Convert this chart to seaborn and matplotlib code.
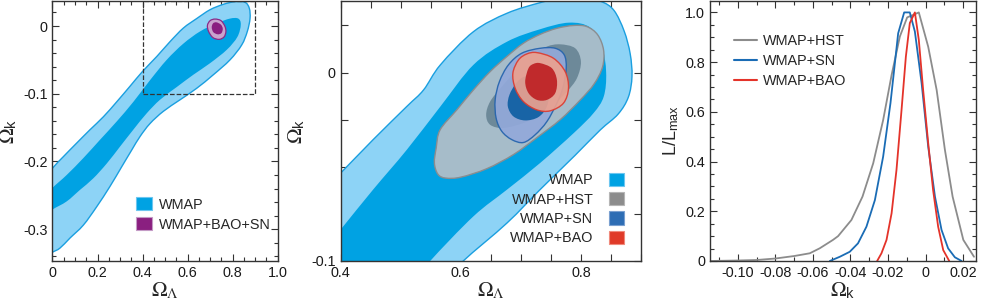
import numpy as np
import pandas as pd
import seaborn as sns
import matplotlib.pyplot as plt
from matplotlib.path import Path
from matplotlib.patches import PathPatch, Patch, Rectangle
from matplotlib.lines import Line2D
from matplotlib.ticker import MultipleLocator, FuncFormatter

# ---- contour outlines (Omega_Lambda, Omega_k) ----
# left panel, WMAP only
wmap95_left_x = [-0.03, 0.0, 0.048, 0.107, 0.167, 0.226, 0.285, 0.344, 0.400, 0.463, 0.522, 0.581, 0.640, 0.699,
                 0.758, 0.810, 0.855, 0.874, 0.877, 0.865, 0.840, 0.788, 0.714, 0.640, 0.566, 0.492, 0.433, 0.389,
                 0.352, 0.307, 0.255, 0.196, 0.137, 0.078, 0.033, 0.0, -0.03]
wmap95_left_y = [-0.225, -0.210, -0.193, -0.173, -0.153, -0.134, -0.112, -0.089, -0.067, -0.045, -0.023, -0.003,
                 0.011, 0.024, 0.032, 0.036, 0.035, 0.026, 0.011, -0.008, -0.028, -0.050, -0.072, -0.092, -0.109,
                 -0.126, -0.144, -0.163, -0.183, -0.208, -0.237, -0.267, -0.294, -0.313, -0.328, -0.334, -0.340]
wmap68_left_x = [-0.03, 0.0, 0.063, 0.137, 0.211, 0.285, 0.359, 0.433, 0.507, 0.581, 0.655, 0.729, 0.788, 0.825,
                 0.836, 0.821, 0.774, 0.699, 0.625, 0.552, 0.477, 0.418, 0.359, 0.300, 0.241, 0.181, 0.122, 0.063,
                 0.0, -0.03]
wmap68_left_y = [-0.252, -0.239, -0.220, -0.195, -0.168, -0.141, -0.112, -0.080, -0.050, -0.026, -0.008, 0.004,
                 0.011, 0.011, 0.002, -0.016, -0.035, -0.055, -0.072, -0.090, -0.109, -0.129, -0.153, -0.178,
                 -0.203, -0.225, -0.242, -0.259, -0.271, -0.280]
# WMAP+BAO+SN
comb95_x = [0.722, 0.748, 0.765, 0.770, 0.762, 0.740, 0.712, 0.693, 0.688, 0.700]
comb95_y = [0.0103, 0.008, 0.0, -0.008, -0.016, -0.0197, -0.017, -0.008, 0.001, 0.008]
comb68_x = [0.728, 0.748, 0.756, 0.750, 0.733, 0.714, 0.707, 0.713]
comb68_y = [0.0055, 0.002, -0.004, -0.0105, -0.0122, -0.009, -0.002, 0.004]

# middle panel (zoom)
wmap95_mid_x = [0.36, 0.40, 0.454, 0.510, 0.538, 0.566, 0.621, 0.677, 0.732, 0.765, 0.800, 0.833, 0.855, 0.872,
                0.882, 0.885, 0.879, 0.862, 0.832, 0.790, 0.732, 0.677, 0.604, 0.57, 0.36]
wmap95_mid_y = [-0.066, -0.0533, -0.0356, -0.018, -0.0092, 0.0041, 0.0217, 0.0315, 0.0371, 0.0392, 0.0398,
                0.0378, 0.033, 0.022, 0.010, -0.002, -0.013, -0.022, -0.0305, -0.044, -0.0621, -0.0798, -0.100,
                -0.112, -0.125]
wmap68_mid_x = [0.36, 0.40, 0.454, 0.510, 0.566, 0.621, 0.677, 0.732, 0.780, 0.815, 0.835, 0.842, 0.838, 0.821,
                0.788, 0.732, 0.677, 0.621, 0.549, 0.52, 0.36]
wmap68_mid_y = [-0.099, -0.0833, -0.0621, -0.041, -0.018, 0.0041, 0.0164, 0.023, 0.0265, 0.024, 0.014, 0.0,
                -0.0127, -0.0215, -0.0321, -0.048, -0.0621, -0.0763, -0.100, -0.112, -0.125]
hst95_x = [0.760, 0.7877, 0.810, 0.828, 0.8377, 0.836, 0.822, 0.799, 0.7655, 0.7267, 0.6877, 0.6433, 0.600,
           0.575, 0.562, 0.556, 0.559, 0.5655, 0.5933, 0.621, 0.6488, 0.6767, 0.7043, 0.7322]
hst95_y = [0.0235, 0.0250, 0.0244, 0.020, 0.012, 0.003, -0.006, -0.0145, -0.025, -0.0345, -0.0435, -0.051,
           -0.0555, -0.0560, -0.054, -0.048, -0.040, -0.0304, -0.0198, -0.0092, 0.0005, 0.0085, 0.0156, 0.0203]
hst68_x = [0.7655, 0.7905, 0.800, 0.7933, 0.7767, 0.755, 0.7322, 0.7043, 0.671, 0.6488, 0.6422, 0.6488, 0.6683,
           0.6933, 0.721, 0.7433]
hst68_y = [0.015, 0.0129, 0.0058, -0.003, -0.0101, -0.017, -0.0224, -0.0268, -0.0294, -0.0277, -0.0224, -0.0154,
           -0.0074, 0.0014, 0.0094, 0.0138]
sn95_x = [0.7322, 0.7572, 0.7722, 0.7755, 0.770, 0.760, 0.7433, 0.7238, 0.7043, 0.685, 0.6683, 0.6588, 0.6572,
          0.6643, 0.6793, 0.7017]
sn95_y = [0.0129, 0.0129, 0.0094, 0.0023, -0.008, -0.0162, -0.026, -0.033, -0.0371, -0.0356, -0.0312, -0.0242,
          -0.0145, -0.0048, 0.0041, 0.0103]
sn68_x = [0.7072, 0.7322, 0.746, 0.7433, 0.7293, 0.7072, 0.6877, 0.6783, 0.681, 0.6922]
sn68_y = [-0.0021, -0.0039, -0.0101, -0.018, -0.0236, -0.0254, -0.0233, -0.018, -0.0118, -0.0056]
bao95_x = [0.7267, 0.7543, 0.7738, 0.7793, 0.771, 0.7488, 0.7267, 0.7043, 0.6905, 0.6867, 0.696, 0.710]
bao95_y = [0.0106, 0.0076, 0.0005, -0.0083, -0.0162, -0.0203, -0.0198, -0.0154, -0.0083, -0.0003, 0.0067, 0.0099]
bao68_x = [0.7322, 0.7517, 0.760, 0.7572, 0.7433, 0.7267, 0.7127, 0.7072, 0.7127, 0.721]
bao68_y = [0.005, 0.0023, -0.0039, -0.0109, -0.0145, -0.0145, -0.0109, -0.0048, 0.0023, 0.0046]

# right panel: likelihood of Omega_k
ok_hst = [-0.115, -0.100, -0.090, -0.080, -0.070, -0.0617, -0.0564, -0.0493, -0.0466, -0.0395, -0.0336, -0.0279,
          -0.0226, -0.0181, -0.0137, -0.0098, -0.0066, -0.0036, 0.0014, 0.0059, 0.0103, 0.0144, 0.0201, 0.0258]
L_hst = [0.0, 0.002, 0.004, 0.010, 0.020, 0.031, 0.051, 0.085, 0.100, 0.165, 0.259, 0.393, 0.567, 0.748, 0.903,
         0.980, 0.990, 1.0, 0.862, 0.688, 0.447, 0.259, 0.085, 0.017]
ok_sn = [-0.051, -0.0457, -0.0404, -0.036, -0.0315, -0.027, -0.0226, -0.0187, -0.0146, -0.0114, -0.0084, -0.0057,
         -0.0021, 0.0014, 0.005, 0.0085, 0.012, 0.0156, 0.0192]
L_sn = [0.0, 0.017, 0.037, 0.071, 0.138, 0.245, 0.42, 0.635, 0.916, 1.0, 1.0, 0.923, 0.715, 0.46, 0.259, 0.125,
        0.051, 0.015, 0.0]
ok_bao = [-0.0258, -0.0235, -0.0208, -0.0181, -0.0155, -0.0128, -0.0105, -0.0084, -0.0057, -0.0036, -0.0013,
          0.0014, 0.004, 0.0067, 0.0094, 0.0126]
L_bao = [0.0, 0.031, 0.085, 0.192, 0.366, 0.608, 0.822, 0.957, 1.0, 0.889, 0.688, 0.474, 0.286, 0.138, 0.044, 0.0]

sns.set_style("ticks")
plt.rcParams['font.family'] = ['Liberation Sans', 'DejaVu Sans']
plt.rcParams['mathtext.fontset'] = 'stix'
plt.rcParams['axes.unicode_minus'] = False

light_blue, wmap_blue, wmap_edge = '#8dd3f6', '#00a2e3', '#1a9fe0'
FS = 10.4


def contour(ax, xs, ys, **kw):
    # smooth closed curve through the read-off points
    p = np.column_stack([xs, ys])
    n = len(p)
    verts, codes = [p[0]], [Path.MOVETO]
    for i in range(n):
        p0, p1, p2, p3 = p[i - 1], p[i], p[(i + 1) % n], p[(i + 2) % n]
        verts += [p1 + (p2 - p0) / 6, p2 - (p3 - p1) / 6, p2]
        codes += [Path.CURVE4] * 3
    ax.add_patch(PathPatch(Path(verts, codes), **kw))


def style(ax, minor_len=3):
    ax.tick_params(which='both', direction='in', top=True, right=True, width=0.8,
                   color='#333333', labelcolor='#1a1a1a', labelsize=FS)
    ax.tick_params(which='major', length=5)
    ax.tick_params(which='minor', length=minor_len)
    for s in ax.spines.values():
        s.set_linewidth(1.0)
        s.set_color('#333333')


fmt = FuncFormatter(lambda v, p: '0' if abs(v) < 1e-9 else f'{v:.1f}')
fmt2 = FuncFormatter(lambda v, p: '0' if abs(v) < 1e-9 else f'{v:.2f}')

fig = plt.figure(figsize=(9.81, 3.08), dpi=100)
ax1 = fig.add_axes([0.0535, 0.1526, 0.2296, 0.8442])
ax2 = fig.add_axes([0.3473, 0.1526, 0.3061, 0.8442])
ax3 = fig.add_axes([0.7238, 0.1526, 0.2708, 0.8442])

mid_xlim = (0.4, 0.9)
mid_ylim = (-0.1, 0.038)

# ---- left panel ----
contour(ax1, wmap95_left_x, wmap95_left_y, facecolor=light_blue, edgecolor=wmap_edge, lw=1.0)
contour(ax1, wmap68_left_x, wmap68_left_y, facecolor=wmap_blue, edgecolor='none')
contour(ax1, comb95_x, comb95_y, facecolor='#c9a3cd', edgecolor='#8a2a88', lw=0.9)
contour(ax1, comb68_x, comb68_y, facecolor='#8a1f80', edgecolor='none')
ax1.add_patch(Rectangle((mid_xlim[0], mid_ylim[0]), mid_xlim[1] - mid_xlim[0], mid_ylim[1] - mid_ylim[0] - 0.001,
                        fill=False, ls='--', lw=0.9, edgecolor='#333333'))
ax1.set_xlim(0, 1.0)
ax1.set_ylim(-0.347, 0.037)
ax1.xaxis.set_major_locator(MultipleLocator(0.2))
ax1.xaxis.set_minor_locator(MultipleLocator(0.05))
ax1.yaxis.set_major_locator(MultipleLocator(0.1))
ax1.yaxis.set_minor_locator(MultipleLocator(0.02))
ax1.xaxis.set_major_formatter(fmt)
ax1.yaxis.set_major_formatter(fmt)
style(ax1)
ax1.set_xlabel(r'$\Omega_\Lambda$', fontsize=15, labelpad=0)
ax1.set_ylabel(r'$\Omega_{\mathregular{k}}$', fontsize=15, labelpad=3)
h1 = [Patch(facecolor=wmap_blue, edgecolor='#6cc6f0', lw=0.8),
      Patch(facecolor='#8a1f80', edgecolor='#c49bc6', lw=0.8)]
ax1.legend(h1, ['WMAP', 'WMAP+BAO+SN'], loc='upper left', bbox_to_anchor=(0.37, 0.245), frameon=False,
           fontsize=FS, handlelength=1.15, handleheight=1.0, handletextpad=0.45, labelspacing=0.4,
           borderpad=0, borderaxespad=0)

# ---- middle panel ----
contour(ax2, wmap95_mid_x, wmap95_mid_y, facecolor=light_blue, edgecolor=wmap_edge, lw=1.0)
contour(ax2, wmap68_mid_x, wmap68_mid_y, facecolor=wmap_blue, edgecolor='none')
contour(ax2, hst95_x, hst95_y, facecolor='#a6bcc9', edgecolor='#8a8d90', lw=1.0)
contour(ax2, hst68_x, hst68_y, facecolor='#6d8999', edgecolor='none')
contour(ax2, sn95_x, sn95_y, facecolor='#93a9da', edgecolor='#2463ad', lw=1.0, alpha=0.92)
contour(ax2, sn68_x, sn68_y, facecolor='#1864a6', edgecolor='none')
contour(ax2, bao95_x, bao95_y, facecolor='#eba190', edgecolor='#dc3b30', lw=1.0, alpha=0.92)
contour(ax2, bao68_x, bao68_y, facecolor='#c02a2c', edgecolor='none')
ax2.set_xlim(*mid_xlim)
ax2.set_ylim(*mid_ylim)
ax2.xaxis.set_major_locator(MultipleLocator(0.2))
ax2.xaxis.set_minor_locator(MultipleLocator(0.05))
ax2.yaxis.set_major_locator(MultipleLocator(0.1))
ax2.yaxis.set_minor_locator(MultipleLocator(0.025))
ax2.xaxis.set_major_formatter(fmt)
ax2.yaxis.set_major_formatter(fmt)
style(ax2, minor_len=5)
ax2.set_xlabel(r'$\Omega_\Lambda$', fontsize=15, labelpad=0)
ax2.set_ylabel(r'$\Omega_{\mathregular{k}}$', fontsize=15, labelpad=3)
h2 = [Patch(facecolor=wmap_blue, edgecolor='#6cc6f0', lw=0.8),
      Patch(facecolor='#8c8c8c', edgecolor='#b5b5b5', lw=0.8),
      Patch(facecolor='#2d6db4', edgecolor='#7aa0d0', lw=0.8),
      Patch(facecolor='#e03a28', edgecolor='#f08a7c', lw=0.8)]
ax2.legend(h2, ['WMAP', 'WMAP+HST', 'WMAP+SN', 'WMAP+BAO'], loc='lower right', bbox_to_anchor=(0.945, 0.06),
           frameon=False, fontsize=FS, markerfirst=False, handlelength=1.05, handleheight=1.05,
           handletextpad=1.1, labelspacing=0.33, borderpad=0, borderaxespad=0)

# ---- right panel ----
like = pd.concat([
    pd.DataFrame({'omega_k': ok_hst, 'L': L_hst, 'set': 'WMAP+HST'}),
    pd.DataFrame({'omega_k': ok_sn, 'L': L_sn, 'set': 'WMAP+SN'}),
    pd.DataFrame({'omega_k': ok_bao, 'L': L_bao, 'set': 'WMAP+BAO'}),
])
pal = {'WMAP+HST': '#8c8c8c', 'WMAP+SN': '#1a6cb5', 'WMAP+BAO': '#e4332a'}
sns.lineplot(data=like, x='omega_k', y='L', hue='set', palette=pal, ax=ax3, legend=False,
             estimator=None, sort=False, linewidth=1.3)
ax3.set_xlim(-0.1148, 0.0267)
ax3.set_ylim(0, 1.046)
ax3.xaxis.set_major_locator(MultipleLocator(0.02))
ax3.xaxis.set_minor_locator(MultipleLocator(0.01))
ax3.yaxis.set_major_locator(MultipleLocator(0.2))
ax3.yaxis.set_minor_locator(MultipleLocator(0.05))
ax3.xaxis.set_major_formatter(fmt2)
ax3.yaxis.set_major_formatter(fmt)
style(ax3)
ax3.set_xlabel(r'$\Omega_{\mathregular{k}}$', fontsize=15, labelpad=0)
ax3.set_ylabel(r'L/L$_{\mathregular{max}}$', fontsize=13, labelpad=3)
h3 = [Line2D([], [], color=pal[k], lw=1.5) for k in pal]
ax3.legend(h3, list(pal), loc='upper left', bbox_to_anchor=(0.09, 0.872), frameon=False, fontsize=FS,
           handlelength=1.6, handletextpad=0.4, labelspacing=0.42, borderpad=0, borderaxespad=0)

fig.savefig('out.png', dpi=100)
